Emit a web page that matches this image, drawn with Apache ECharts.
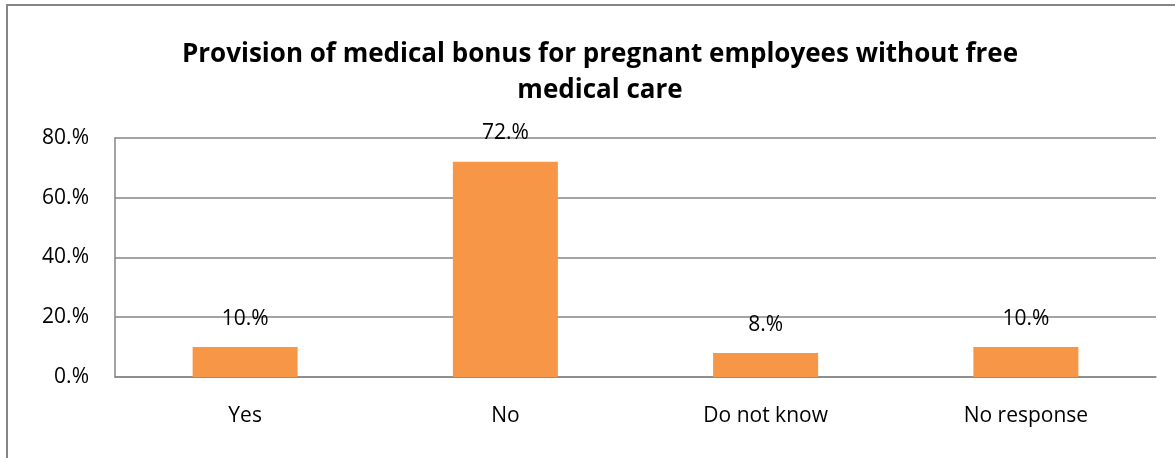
<!DOCTYPE html>
<html>
<head>
<meta charset="utf-8">
<script src="https://cdn.jsdelivr.net/npm/echarts@6/dist/echarts.min.js"></script>
<style>
  html, body { margin: 0; padding: 0; background: #fff; }
  #chart { width: 1175px; height: 458px; }
</style>
</head>
<body>
<div id="chart"></div>
<script>
const categories = ['Yes', 'No', 'Do not know', 'No response']
const shares = [10, 72, 8, 10]
const yTicks = [0, 20, 40, 60, 80]

const font = 'Open Sans, Noto Sans, sans-serif'
const chart = echarts.init(document.getElementById('chart'))
chart.setOption({
  animation: false,
  title: {
    text: 'Provision of medical bonus for pregnant employees without free\nmedical care',
    left: 595,
    textAlign: 'center',
    top: 32,
    textStyle: { fontFamily: font, fontWeight: 'bold', fontSize: 26, lineHeight: 36, color: '#000' }
  },
  graphic: [{
    type: 'rect',
    shape: { x: 7, y: 5, width: 1300, height: 600 },
    style: { fill: 'none', stroke: '#868686', lineWidth: 2 },
    silent: true
  }],
  grid: { left: 115, right: 19, top: 137.7, bottom: 81 },
  xAxis: {
    type: 'category',
    data: categories,
    axisTick: { show: false },
    axisLine: { lineStyle: { color: '#868686', width: 1.5 } },
    axisLabel: { margin: 29, color: '#000', fontFamily: font, fontSize: 21 }
  },
  yAxis: {
    type: 'value',
    min: yTicks[0],
    max: yTicks[yTicks.length - 1],
    interval: 20,
    axisLine: { show: true, lineStyle: { color: '#868686', width: 1.5 } },
    axisTick: { show: false },
    splitLine: { lineStyle: { color: '#868686', width: 1.5 } },
    axisLabel: { margin: 26, color: '#000', fontFamily: font, fontSize: 21, formatter: '{value}.%' }
  },
  series: [{
    type: 'bar',
    data: shares,
    barWidth: 105,
    itemStyle: { color: '#F79646' },
    label: {
      show: true,
      position: 'top',
      distance: 18,
      color: '#000',
      fontFamily: font,
      fontSize: 21,
      formatter: p => p.value + '.%'
    }
  }]
})
</script>
</body>
</html>
